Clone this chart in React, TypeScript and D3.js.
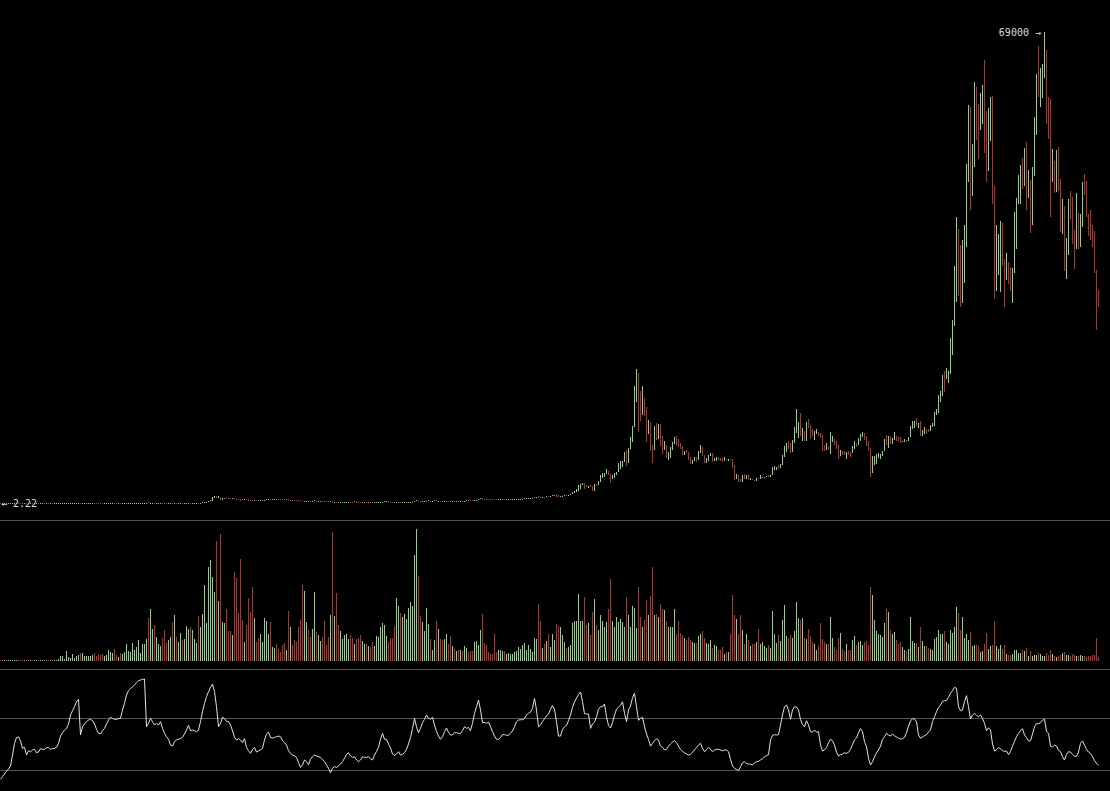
import { useEffect, useRef } from 'react';
import * as d3 from 'd3';

// Weekly BTC candles, week of 7 Nov 2011 to week of 16 May 2022
const FIRST_OPEN = 3.0;

const closes: number[] = [
  // 2011
  2.6, 2.3, 2.5, 2.9, 3.0, 3.2, 3.9, 4.7,
  // 2012
  6.8, 6.6, 6.3, 5.4, 6.0, 5.6, 4.3, 4.9, 4.8, 5.0, 5.3, 4.8, 4.9, 4.95, 4.9, 5.1, 5.0, 5.1, 5.0, 5.1,
  5.2, 5.3, 5.6, 6.4, 6.45, 6.7, 6.8, 7.2, 8.6, 8.8, 10.9, 11.5, 8.5, 10.1, 10.2, 10.9, 11.4, 12.3,
  12.35, 12.0, 11.9, 11.7, 10.9, 10.6, 10.9, 11.5, 12.3, 12.5, 13.3, 13.2, 13.1, 13.4, 13.3,
  // 2013
  14.0, 15.6, 17.8, 20.4, 22.6, 26.9, 29.9, 34.0, 46.0, 47.0, 71, 93, 142, 95, 119, 135, 112, 117, 122, 130,
  122, 107, 100, 108, 111, 77, 97, 91, 95, 105, 102, 105, 114, 129, 120, 126, 127, 131, 123, 135,
  170, 190, 210, 340, 440, 800, 1000, 870, 900, 620, 710, 800,
  // 2014
  790, 780, 770, 805, 700, 650, 600, 570, 560, 630, 570, 480, 450, 420, 500, 460, 440, 450, 460, 570,
  630, 650, 590, 595, 600, 595, 585, 580, 575, 570, 580, 510, 515, 475, 470, 465, 400, 390, 330, 375,
  380, 360, 330, 340, 390, 350, 355, 365, 360, 350, 345, 330,
  // 2015
  375, 210, 255, 225, 220, 230, 235, 240, 250, 255, 250, 245, 275, 270, 260, 250, 255, 260, 255, 258,
  240, 230, 235, 240, 242, 258, 275, 285, 290, 280, 270, 260, 230, 232, 235, 230, 235, 240, 245, 250,
  270, 285, 330, 380, 330, 320, 325, 360, 390, 420, 410, 430,
  // 2016
  450, 380, 390, 375, 370, 380, 400, 395, 390, 415, 410, 420, 415, 418, 412, 420, 450, 445, 440, 438,
  530, 575, 670, 760, 660, 650, 645, 640, 635, 630, 590, 580, 585, 600, 610, 605, 608, 610, 615, 620,
  625, 640, 660, 700, 710, 730, 735, 740, 760, 790, 900, 1000,
  // 2017
  905, 820, 920, 915, 1025, 995, 1050, 1175, 1270, 1230, 1025, 1040, 1090, 1190, 1180, 1250, 1350, 1640,
  1750, 2050, 2150, 2780, 2960, 2560, 2500, 2530, 2500, 1930, 2750, 2730, 3240, 4050, 4080, 4370, 4620,
  4250, 3670, 3780, 4400, 4600, 5700, 5900, 6150, 7400, 5950, 8030, 9600, 11250, 15100, 19000, 13800, 13400,
  // 2018
  14200, 13600, 11500, 11700, 8200, 8100, 11100, 9600, 11500, 9500, 8200, 8400, 6950, 7000, 8000, 8900,
  9250, 8700, 8500, 8250, 7350, 7700, 7500, 6500, 6150, 6350, 6750, 6350, 7400, 8200, 7050, 6300, 6400,
  7050, 7300, 6200, 6500, 6700, 6600, 6300, 6280, 6480, 6400, 6420, 6350, 5600, 3800, 4100, 3600, 3200, 4000, 3700,
  // 2019
  4000, 3550, 3560, 3450, 3400, 3650, 3600, 3800, 3820, 3900, 3950, 3940, 4100, 5000, 5050, 5300, 5200,
  5700, 7000, 8000, 8700, 8680, 7600, 8900, 10800, 11000, 11400, 10200, 10550, 9500, 11800, 11400, 10200,
  10100, 10300, 10400, 10300, 10000, 8000, 7850, 8300, 8200, 9200, 9300, 8800, 8500, 7000, 7500, 7480, 7100, 7500, 7400,
  // 2020
  7380, 8100, 8900, 8600, 9400, 9900, 10250, 9700, 8700, 8000, 5350, 5800, 5900, 6850, 6900, 7100, 7700,
  8900, 8750, 9700, 8700, 9450, 9700, 9350, 9300, 9000, 9050, 9200, 9150, 9700, 11100, 11700, 11800,
  11650, 11700, 10250, 10700, 10900, 10750, 10650, 11400, 11500, 13100, 13800, 15500, 16100, 18400, 18200,
  19100, 19200, 23800, 26500,
  // 2021
  32000, 38200, 36000, 32300, 34300, 39000, 48600, 57500, 45200, 50900, 61000, 57400, 55800, 57100, 59800,
  56200, 49100, 56600, 58200, 46400, 34700, 35600, 35800, 39000, 35500, 34700, 35300, 34200, 31800, 33800,
  39900, 44400, 46400, 49300, 47000, 51800, 46000, 47300, 43200, 48200, 54700, 61500, 61300, 61400, 63300,
  65500, 58600, 57200, 49400, 50100, 46700, 50800, 47300,
  // 2022
  41800, 43100, 36300, 37900, 42400, 42200, 38400, 37700, 38000, 37800, 41300, 46800, 46400, 42100, 39700,
  39400, 38500, 34100, 31300, 29400,
];

const highs: number[] = [
  3.1, 2.6, 2.6, 3.0, 3.2, 3.3, 4.0, 4.8,
  7.2, 7.0, 7.0, 6.4, 6.2, 6.0, 5.6, 5.0, 5.1, 5.1, 5.4, 5.4, 5.0, 5.0, 5.0, 5.2, 5.2, 5.2, 5.1, 5.2,
  5.3, 5.4, 5.7, 6.5, 6.6, 6.8, 7.0, 7.6, 8.7, 9.2, 11.0, 12.0, 15.4, 10.8, 10.5, 11.0, 11.8, 12.7,
  12.6, 12.5, 12.1, 12.0, 11.8, 11.0, 11.0, 11.7, 12.4, 12.7, 13.6, 13.6, 13.5, 13.6, 13.7,
  14.5, 15.8, 18.0, 20.8, 23.0, 27.5, 30.5, 34.5, 48.0, 48.5, 75, 95, 148, 266, 125, 145, 140, 120, 125, 133,
  133, 124, 110, 110, 115, 112, 100, 99, 97, 108, 108, 110, 118, 130, 130, 128, 128, 133, 133, 138,
  172, 200, 215, 350, 460, 900, 1163, 1150, 1050, 930, 770, 830,
  1000, 880, 830, 830, 840, 720, 680, 640, 680, 700, 660, 590, 510, 480, 540, 510, 470, 460, 470, 580,
  640, 680, 660, 620, 610, 645, 640, 630, 625, 600, 600, 600, 530, 520, 490, 490, 480, 450, 420, 395,
  420, 410, 400, 370, 460, 420, 390, 385, 380, 385, 370, 360,
  380, 380, 265, 260, 240, 240, 245, 250, 260, 265, 275, 260, 295, 290, 275, 265, 262, 265, 262, 262,
  260, 245, 238, 245, 248, 265, 280, 295, 300, 295, 285, 275, 265, 235, 240, 240, 240, 240, 250, 255,
  275, 290, 335, 500, 390, 340, 335, 370, 400, 455, 440, 440,
  460, 455, 400, 400, 385, 385, 405, 420, 400, 420, 425, 425, 425, 422, 420, 425, 455, 460, 455, 445,
  540, 585, 690, 780, 770, 680, 670, 680, 665, 660, 660, 600, 595, 605, 615, 612, 612, 615, 620, 625,
  630, 645, 665, 710, 720, 740, 745, 750, 770, 800, 910, 1005,
  1150, 910, 935, 925, 1040, 1070, 1060, 1200, 1290, 1330, 1260, 1070, 1100, 1210, 1220, 1270, 1360, 1650,
  1800, 2100, 2760, 2800, 2980, 3000, 2780, 2600, 2650, 2540, 2900, 2800, 3300, 4200, 4480, 4400, 4980,
  4700, 4250, 4100, 4450, 4640, 5860, 6200, 6200, 7500, 7880, 8100, 9750, 11400, 17200, 19666, 19100, 16500,
  17200, 15400, 14100, 12200, 12000, 8500, 11300, 11800, 11600, 11700, 9900, 9200, 8500, 7500, 8200, 9000,
  9750, 9950, 9400, 8850, 8400, 7750, 7760, 7500, 6800, 6400, 6850, 6800, 7650, 8500, 8250, 7150, 6600,
  7100, 7400, 7400, 6600, 6800, 6800, 6700, 6650, 6800, 6520, 6500, 6550, 6450, 5600, 4350, 4150, 3600, 4200, 4250,
  4100, 4100, 3700, 3650, 3500, 3700, 3700, 4200, 3900, 3950, 4000, 4100, 4150, 5300, 5450, 5400, 5650,
  5800, 7100, 8350, 8800, 9100, 8800, 9300, 11200, 13800, 12000, 13200, 11100, 10650, 11900, 12300, 11450,
  10950, 10600, 10900, 10400, 10300, 10050, 8500, 8800, 8400, 10500, 9950, 9500, 9100, 8550, 7850, 7750, 7650, 7550, 7700,
  7600, 8450, 9200, 8850, 9550, 10150, 10500, 10250, 9950, 9200, 8150, 6900, 6950, 7200, 7450, 7250, 7750,
  9450, 10000, 9950, 9850, 9600, 10400, 9950, 9800, 9700, 9200, 9450, 9350, 9800, 11400, 12050, 12050,
  12450, 11750, 12100, 10700, 11150, 10950, 10950, 11500, 11750, 13350, 13900, 15950, 16450, 18800, 19400,
  19900, 19400, 24200, 26900,
  34700, 41900, 40100, 37900, 38500, 40800, 49700, 58300, 58000, 52600, 61700, 61000, 58400, 60100, 61200,
  64900, 57500, 57900, 59500, 59600, 46500, 40800, 39500, 41300, 41000, 35800, 36600, 35100, 34600, 34500,
  42600, 44700, 48100, 49500, 50500, 52000, 52900, 48800, 47400, 49200, 56600, 62900, 67000, 63700, 64300,
  69000, 66400, 59500, 59200, 51900, 50000, 51800, 52100,
  47500, 44500, 43500, 38900, 44500, 45800, 44800, 40000, 45400, 42500, 42300, 47100, 48200, 47200, 42400,
  42900, 40800, 39900, 34200, 31300,
];

const lows: number[] = [
  2.22, 2.25, 2.3, 2.5, 2.8, 3.0, 3.2, 3.8,
  4.6, 6.0, 5.9, 5.2, 5.3, 5.4, 4.0, 4.2, 4.6, 4.8, 4.9, 4.6, 4.7, 4.8, 4.8, 4.9, 4.9, 4.9, 4.9, 5.0,
  5.0, 5.1, 5.2, 5.5, 6.2, 6.3, 6.5, 6.7, 7.1, 8.3, 8.7, 10.6, 7.1, 8.4, 9.8, 10.0, 10.8, 11.2,
  12.0, 11.8, 11.5, 11.5, 10.5, 10.0, 10.5, 10.8, 11.4, 12.1, 12.4, 12.9, 12.8, 13.0, 13.1,
  13.2, 13.9, 15.5, 17.5, 20.0, 22.5, 26.5, 29.5, 33.5, 40.0, 46.5, 70, 92, 50, 88, 115, 105, 108, 111, 119,
  115, 100, 94, 95, 98, 65, 75, 85, 89, 94, 98, 100, 104, 113, 115, 118, 122, 124, 118, 122,
  133, 165, 180, 200, 300, 420, 740, 780, 800, 455, 580, 690,
  750, 760, 740, 760, 680, 580, 550, 400, 540, 560, 540, 440, 430, 340, 410, 440, 420, 430, 440, 450,
  560, 610, 560, 560, 570, 580, 570, 570, 570, 560, 570, 490, 480, 460, 460, 460, 390, 370, 290, 320,
  360, 320, 325, 320, 335, 340, 330, 345, 345, 335, 320, 310,
  310, 165, 200, 215, 210, 215, 225, 230, 235, 245, 240, 235, 240, 260, 250, 240, 245, 250, 250, 250,
  235, 220, 225, 230, 235, 238, 255, 270, 280, 270, 265, 255, 165, 200, 225, 225, 225, 230, 235, 240,
  245, 265, 280, 320, 310, 300, 310, 320, 350, 380, 390, 400,
  420, 370, 365, 365, 360, 365, 375, 390, 380, 385, 405, 405, 410, 410, 405, 410, 415, 440, 435, 435,
  435, 520, 560, 660, 550, 630, 635, 630, 630, 620, 530, 560, 570, 580, 595, 595, 600, 605, 608, 612,
  615, 620, 635, 655, 690, 700, 720, 725, 730, 750, 780, 885,
  880, 750, 810, 880, 910, 950, 985, 1040, 1140, 1000, 940, 890, 920, 1080, 1150, 1170, 1240, 1340,
  1550, 1700, 1900, 2100, 2650, 2100, 2400, 2300, 2420, 1830, 1900, 2520, 2650, 3200, 3700, 3950, 4300,
  4100, 2970, 3550, 3750, 4150, 4560, 5100, 5400, 6100, 5550, 5900, 8000, 9000, 11200, 14800, 10400, 12050,
  13000, 12800, 9000, 10100, 7700, 5900, 7900, 9300, 9400, 8400, 7300, 7800, 6600, 6400, 6600, 7800,
  8700, 8600, 8200, 7950, 7050, 7100, 7350, 6300, 5800, 5800, 6250, 6100, 6300, 7350, 6900, 5900, 5900,
  6200, 6900, 6100, 6150, 6200, 6400, 6200, 6100, 6400, 6380, 6250, 6300, 5200, 3500, 3550, 3200, 3150, 3200, 3550,
  3650, 3500, 3450, 3450, 3350, 3350, 3550, 3600, 3700, 3700, 3850, 3900, 3900, 4100, 4900, 4950, 5000,
  5150, 5600, 6800, 7500, 8000, 7450, 7500, 8900, 10300, 9600, 9900, 9100, 9150, 9100, 11000, 9500,
  9850, 9350, 10150, 9900, 9650, 7750, 7750, 7950, 7850, 7300, 8950, 8600, 8000, 6550, 6900, 7150, 7050, 6450, 7100,
  6850, 7400, 8050, 8250, 8550, 9150, 9700, 9300, 8450, 7650, 3850, 4400, 5650, 5850, 6700, 6500, 6900,
  7650, 8550, 8100, 8650, 8650, 9300, 9200, 9100, 8900, 8950, 9050, 9050, 9150, 9700, 10900, 11100,
  11400, 11100, 9900, 9900, 10200, 10150, 10400, 10550, 11200, 11400, 12900, 13250, 14800, 15800, 16300,
  18200, 17600, 19000, 21800,
  26000, 29500, 30400, 28800, 29300, 32300, 37500, 47000, 43000, 45000, 49300, 53200, 50400, 54700, 55500,
  51300, 47000, 48700, 53000, 43800, 30000, 31100, 33500, 31000, 34800, 28800, 32700, 32100, 31100, 29300,
  35300, 37300, 43900, 43900, 46000, 46500, 43000, 44700, 39600, 40800, 48000, 53900, 59500, 58000, 59400,
  62300, 55600, 53300, 42000, 47100, 45500, 45600, 45700,
  39700, 39400, 34000, 32900, 36300, 41700, 38000, 34300, 37200, 37200, 37600, 40500, 45200, 41900, 39200,
  38600, 37600, 33700, 25400, 28700,
];

// weekly volume, thousand BTC
const volumes: number[] = [
  1, 1, 2, 2, 2, 2, 3, 3, 3, 2, 2, 3, 2, 2, 3, 2, 2, 2, 2, 2, 2, 2, 2, 3,
  4, 2, 2, 3, 4, 6, 14, 14, 7, 29, 12, 9, 20, 10, 14, 17, 24, 25, 16, 14, 15, 15, 18, 24, 15, 22,
  18, 22, 14, 18, 32, 26, 24, 35, 17, 12, 24, 22, 27, 50, 30, 27, 54, 32, 42, 62, 24, 52, 50, 66,
  128, 155, 95, 107, 72, 52, 44, 70, 92, 54, 62, 72, 116, 137, 72, 57, 84, 62, 67, 104, 97, 100,
  94, 67, 54, 134, 100, 139, 227, 112, 282, 302, 252, 207, 357, 180, 380, 117, 112, 154, 90, 90, 77,
  267, 247, 142, 304, 122, 57, 107, 187, 147, 222, 127, 57, 70, 80, 57, 127, 120, 80, 117, 42, 39,
  50, 37, 27, 47, 54, 32, 150, 100, 47, 62, 57, 100,
  122, 227, 209, 117, 92, 72, 95, 206, 86, 79, 60, 72, 119, 47, 72, 137, 386, 134, 204, 107,
  89, 67, 77, 80, 65, 77, 70, 52, 67, 70, 77, 60, 50, 50, 44, 42, 57, 44, 74, 72,
  102, 112, 107, 74, 57, 70, 70, 104, 187, 164, 142, 132, 139, 126, 157, 176, 164, 317, 394, 254,
  134, 115, 89, 157, 109, 67, 34, 62, 120, 97, 66, 62, 67, 80, 52, 74, 44, 37, 30, 32,
  32, 29, 44, 39, 27, 29, 29, 57, 60, 49, 94, 139, 54, 49, 27, 22, 22, 82, 27, 32,
  32, 30, 29, 22, 24, 22, 20, 26, 30, 42, 37, 47, 54, 32, 47, 37, 27, 70, 67, 169,
  119, 39, 52, 60, 80, 42, 82, 62, 109, 104, 100, 77, 57, 39, 42, 49, 114, 120, 120, 200,
  119, 119, 190, 107, 114, 77, 147, 185, 107, 92, 136, 120, 100, 117, 155, 244, 119, 102, 130, 117,
  125, 117, 102, 191, 137, 102, 164, 157, 99, 220, 132, 102, 122, 182, 137, 194, 280, 137, 139, 132,
  169, 154, 152, 120, 100, 100, 100, 154, 82, 119, 84, 77, 70, 62, 72, 64, 57, 54, 54, 75,
  82, 89, 70, 54, 50, 62, 38, 47, 44, 34, 34, 42, 20, 26, 26, 82, 197, 136, 125, 82,
  137, 92, 50, 80, 62, 44, 52, 50, 57, 95, 50, 57, 44, 40, 47, 40, 150, 82, 54, 77,
  60, 122, 167, 74, 70, 77, 70, 90, 177, 127, 122, 127, 70, 67, 97, 74, 57, 50, 34, 44,
  112, 65, 57, 50, 52, 130, 69, 42, 32, 69, 85, 37, 30, 50, 32, 34, 64, 74, 48, 57,
  60, 47, 57, 60, 47, 220, 197, 122, 89, 80, 77, 72, 114, 154, 145, 92, 82, 86, 62, 50,
  57, 42, 34, 29, 36, 130, 60, 54, 54, 42, 100, 59, 45, 45, 39, 37, 34, 67, 72, 92,
  82, 82, 89, 57, 50, 92, 85, 102, 160, 142, 92, 132, 70, 82, 62, 87, 44, 47, 47, 44,
  27, 30, 50, 84, 37, 44, 48, 119, 44, 37, 47, 37, 49, 22, 17, 17, 22, 34, 34, 24,
  24, 32, 30, 40, 14, 29, 16, 18, 18, 24, 22, 16, 14, 24, 19, 34, 20, 16, 12, 16,
  17, 25, 26, 17, 18, 16, 20, 19, 16, 16, 17, 14, 16, 13, 14, 15, 17, 19, 70, 12,
];

// 14-week RSI
const rsi: number[] = [
  22.8, 24.9, 27, 29, 30.8, 33, 41.5, 50.5, 55, 55.4, 52.5, 46.7, 47.4, 41.5, 44.8, 44, 45.4, 45.9, 43.3, 43.8,
  46.4, 45.9, 45.9, 47.2, 47.4, 45.9, 46.4, 46.7, 47.4, 50.5, 56.1, 58.7, 60.8, 62, 65.4, 72.3, 75.6, 78.7, 82.5, 84.3,
  56.9, 63.3, 65.4, 67.2, 68.4, 69, 68, 65.4, 61.3, 58.2, 57.7, 60.2, 62, 65.4, 68.4, 70.5, 69.7, 69, 69, 69.5,
  69.7, 76.2, 81.3, 87.7, 91, 92.5, 94.1, 95.4, 97.2, 98.7, 99.2, 99.7, 100, 63.3, 65.9, 69.7, 67.2, 64.6, 65.9, 64.6,
  67.2, 62, 58.2, 55.6, 53.6, 49.2, 48.4, 51.8, 53.1, 53.6, 54.1, 55.1, 57.7, 60.8, 64.3, 60.2, 60.8, 60.2, 59.5, 60.8,
  67.2, 74.9, 81.3, 86.4, 90.2, 93.6, 96.1, 90.2, 78.7, 63.3, 65.9, 70.5, 69.7, 67.2, 67.2, 64.6, 60.2, 55.1, 53.1, 54.1,
  53.1, 51, 54.1, 47.4, 44.8, 42.8, 45.9, 47.4, 43.8, 44.8, 45.4, 46.7, 53.1, 57.7, 59.2, 55.1, 54.6, 55.1, 55.6, 56.1,
  55.6, 52.5, 51, 49.2, 44.8, 42.8, 41.5, 40.8, 39.7, 35.6, 32, 33.8, 37.7, 36.4, 34.1, 38.2, 40.2, 41.5, 40.8, 40.2,
  39.7, 38.2, 36.4, 33.8, 31.3, 27.9, 31.3, 32.6, 32, 33.1, 34.6, 36.4, 39, 42, 43.3, 40.8, 39.7, 40.2, 37.7, 36.4,
  37.7, 40.2, 39.7, 39.7, 40.2,
  38.7, 37.7, 41.5, 44.3, 47.4, 53.6, 58.2, 53.6, 53.6, 50, 46.9, 42.3, 41.3, 42.3, 44.1, 41.5, 42, 43.3, 45.9, 50,
  55.1, 62, 69.7, 63.3, 58.7, 62, 66.4, 69, 72.3, 69.7, 69.2, 70.5, 64.6, 59.5, 56.1, 53.6, 55.6, 59.5, 62.3, 59,
  56.9, 56.9, 58.7, 58.7, 58.2, 58.2, 60.2, 63.3, 62, 62.8, 60.2, 65.9, 73.6, 78.7, 83.8, 76.2, 66.4, 66.7, 65.9, 66.9,
  63.3, 59.5, 56.1, 53.6, 53.6, 55.1, 57.2, 57.2, 56.7, 56.7, 58.2, 60, 63.3, 67.2, 68.4, 68.7, 68.7, 69.7, 72.3, 73.6,
  74.6, 77.4, 85.1, 76.2, 63.3, 64.6, 67.2, 69.5, 71.5, 73.1, 76.7, 79.5, 76.7, 67.2, 56.1, 56.1, 61.3, 63.3, 64.3, 67.9,
  72.3, 78.2, 82.3, 85.4, 88, 90, 82.5, 73.3, 73.1, 73.1, 62, 65.4, 66.7, 71, 76.7, 78.7, 78.7, 80.8, 71, 64.3,
  62.3, 66.4, 72.3, 76.7, 78.4, 79.7, 82.5, 73.6, 67.2, 76.2, 79.2, 85.6, 89, 78.7, 68.2, 69.7, 70.5, 63.3, 57.7, 53.6,
  48.4, 50.5, 52.5, 54.1, 53.1, 48.4, 47.4, 45.4, 45.9, 48.4, 50, 51.5, 52.5, 51, 48.4, 45.9, 44.3, 43.3, 42.3, 41.5,
  42, 43.6, 45.4, 47.2, 49.2, 50.5, 46.7, 44.1, 45.9, 47.4, 45.9, 44.1, 45.4, 45.9, 45.9, 45.4, 44.8, 45.4, 45.4, 44.1,
  38.2, 33.1, 31.3, 30.5, 29.5,
  32.5, 35.6, 36.4, 34.9, 34.6, 34.4, 33.8, 35.6, 36.4, 36.7, 37.7, 38.7, 40.2, 41, 41.8, 53.1, 56.7, 57.2, 56.9, 57.2,
  64.6, 72.3, 78.7, 80, 76.2, 69, 76.2, 78.7, 78.4, 76.2, 68.7, 65.1, 63.3, 67.9, 64.6, 59.5, 59.2, 60.8, 59, 59.5,
  49.2, 44.6, 45.4, 47.2, 51, 53.6, 52.5, 49.2, 43.8, 40.8, 41.8, 42.3, 43.3, 42.8, 43.6, 45.9, 49.5, 53.1, 54.6, 58.7,
  61.8, 59.5, 51.8, 48, 39, 33.8, 36.4, 40.2, 43.1, 45.4, 48.4, 53.6, 55.6, 58.2, 56.9, 56.1, 57.7, 56.4, 55.4, 54.4,
  53.8, 54.1, 55.1, 58.7, 63.8, 67.7, 69.5, 69.2, 67.2, 56.9, 54.4, 55.4, 56.4, 57.2, 59.2, 60.8, 67.2, 71, 74.9, 77.9,
  80, 82.8, 83.3, 83.6, 85.9, 89, 91, 93.6, 92.8, 78.7, 75.6, 76.2, 82.5, 87.2, 78.7, 69.2, 72.3, 73.6, 72, 71,
  72.3, 69.7, 65.9, 60.2, 62.5, 60.8, 50, 44.6, 45.6, 47.2, 46.4, 44.8, 44.3, 44.6, 41.8, 44.3, 48.4, 52, 55.6, 58.2,
  60.2, 61.8, 56.9, 54.9, 52.3, 52.5, 57.7, 63.3, 65.6, 65.6, 66.4, 68.4, 69, 59.7, 58.2, 48.2, 47.7, 49.2, 48.4, 45.1,
  44.1, 40.2, 37.7, 42, 44.1, 43.8, 42, 40.5, 40.5, 43.8, 50.5, 52.3, 49.2, 45.9, 43.8, 42.8, 40.2, 37.2, 35.1, 33.8,
];

const RSI_LEVELS = [30, 70];

const UP = '#8fcf86';
const DOWN = '#b3302c';
const RULE = '#555';
const LABEL = '#ddd';
const RSI_LINE = '#dfe3ec';

export default function App() {
  const chartRef = useRef<SVGSVGElement>(null);

  useEffect(() => {
    if (!chartRef.current) return;

    d3.select(chartRef.current).selectAll('*').remove();

    const width = 1110;
    const height = 791;
    const step = 2;
    const n = closes.length;

    // panel geometry
    const price = { top: 32, bottom: 503.5 };
    const vol = { top: 529, bottom: 661 };
    const rsiPanel = { top: 679, bottom: 809 };
    const dividers = [520.5, 669.5];

    const opens = closes.map((c, i) => (i === 0 ? FIRST_OPEN : closes[i - 1]));
    const idx = d3.range(n);

    const x = d3.scaleBand<number>().domain(idx).range([0, n * step]);

    const minLow = d3.min(lows) as number;
    const maxHigh = d3.max(highs) as number;
    const minIdx = lows.indexOf(minLow);
    const maxIdx = highs.indexOf(maxHigh);

    const y = d3.scaleLinear().domain([minLow, maxHigh]).range([price.bottom, price.top]);
    const yVol = d3
      .scaleLinear()
      .domain([0, d3.max(volumes) as number])
      .range([vol.bottom, vol.top]);
    const yRsi = d3.scaleLinear().domain([0, 100]).range([rsiPanel.bottom, rsiPanel.top]);

    const colour = (i: number) => (closes[i] >= opens[i] ? UP : DOWN);

    const svg = d3
      .select(chartRef.current)
      .attr('width', width)
      .attr('height', height);

    svg.append('rect').attr('width', width).attr('height', height).attr('fill', '#000');

    // dividers and RSI levels
    svg
      .append('g')
      .selectAll('line')
      .data([...dividers, ...RSI_LEVELS.map(v => Math.round(yRsi(v)) + 0.5)])
      .join('line')
      .attr('x1', 0)
      .attr('x2', width)
      .attr('y1', d => d)
      .attr('y2', d => d)
      .attr('stroke', RULE)
      .attr('stroke-width', 1);

    // candles
    svg
      .append('g')
      .attr('shape-rendering', 'crispEdges')
      .selectAll('rect')
      .data(idx)
      .join('rect')
      .attr('x', i => x(i) as number)
      .attr('width', 1)
      .attr('y', i => y(Math.max(highs[i], opens[i], closes[i])))
      .attr('height', i =>
        Math.max(1, y(Math.min(lows[i], opens[i], closes[i])) - y(Math.max(highs[i], opens[i], closes[i])))
      )
      .attr('fill', i => colour(i));

    // volume
    svg
      .append('g')
      .attr('shape-rendering', 'crispEdges')
      .selectAll('rect')
      .data(idx)
      .join('rect')
      .attr('x', i => x(i) as number)
      .attr('width', 1)
      .attr('y', i => Math.min(yVol(volumes[i]), vol.bottom - 1))
      .attr('height', i => Math.max(1, vol.bottom - yVol(volumes[i])))
      .attr('fill', i => colour(i));

    // RSI
    const line = d3
      .line<number>()
      .x((_, i) => (x(i) as number) + 0.5)
      .y(v => yRsi(v));

    svg
      .append('path')
      .datum(rsi)
      .attr('d', line)
      .attr('fill', 'none')
      .attr('stroke', RSI_LINE)
      .attr('stroke-width', 1);

    // extreme labels
    const labels = svg
      .append('g')
      .style('font-family', '"DejaVu Sans Mono", monospace')
      .style('font-size', '10px')
      .attr('fill', LABEL);

    labels
      .append('text')
      .attr('x', (x(maxIdx) as number) - 3)
      .attr('y', y(maxHigh))
      .attr('dy', '0.35em')
      .attr('text-anchor', 'end')
      .text(`${maxHigh} →`);

    labels
      .append('text')
      .attr('x', (x(minIdx) as number) + 1)
      .attr('y', y(minLow))
      .attr('dy', '0.35em')
      .attr('text-anchor', 'start')
      .text(`← ${minLow}`);
  }, []);

  return (
    <div style={{ position: 'fixed', inset: 0, background: '#000', overflow: 'hidden' }}>
      <svg ref={chartRef} style={{ display: 'block' }}></svg>
    </div>
  );
}
